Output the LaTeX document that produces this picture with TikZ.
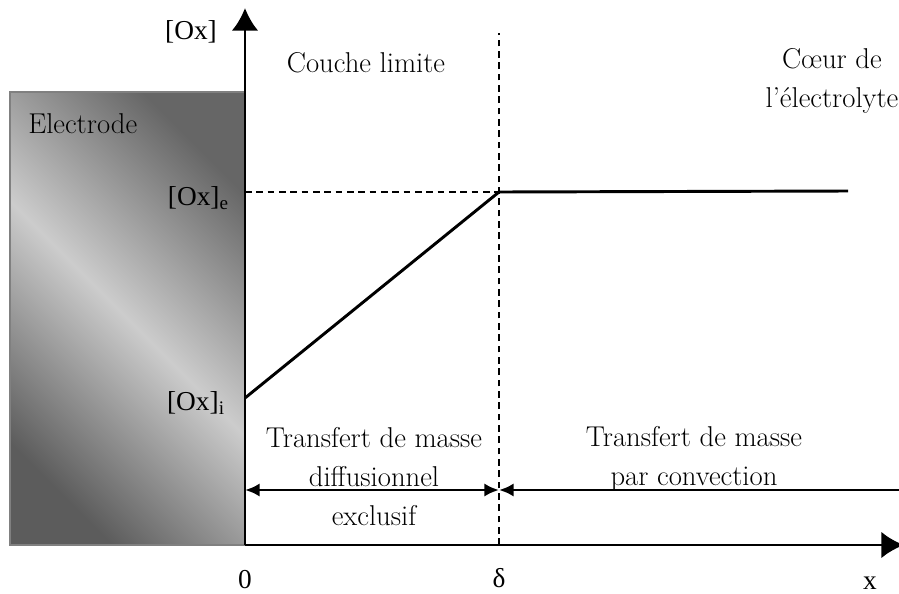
\documentclass[tikz,border=0pt]{standalone}
\usepackage{fontspec}
\newfontfamily\timesfont{Liberation Serif}
\usetikzlibrary{arrows.meta}

\begin{document}
\begin{tikzpicture}[x=0.75pt,y=-0.75pt,>={Latex[length=11pt,width=10pt]},
  axis/.style={line width=2.2pt,-{Latex[length=17pt,width=20pt]}},
  guide/.style={line width=1pt,dash pattern=on 5pt off 3.5pt},
  flux/.style={line width=2.2pt},
  lbl/.style={font=\fontsize{21.5}{29}\selectfont,align=center,inner sep=0pt},
  tlbl/.style={font=\timesfont\fontsize{20.5}{24}\selectfont,inner sep=0pt}]
  \useasboundingbox (0,0) rectangle (899,593);
  % electrode block
  \shade[top color=black!60,bottom color=black!64,middle color=black!20,shading angle=-45]
    (10,92) rectangle (245,545);
  \draw[black!50,line width=1.5pt] (245,92) -- (10,92) -- (10,545) -- (245,545);
  \node[lbl,anchor=base west] (elec) at (28,133) {Electrode};

  % points of the profile
  \coordinate (O) at (245,545);
  \coordinate (ytip) at (245,8);
  \coordinate (xtip) at (904,545);
  \coordinate (d) at (499,545);
  \coordinate (dtop) at (499,33);
  \coordinate (ye) at (245,192);
  \coordinate (ci) at (245,398);
  \coordinate (ce) at (499,192);
  \coordinate (cend) at (848,191);
  \coordinate (fl) at (245,490);
  \coordinate (fd) at (499,490);
  \coordinate (fr) at (899,490);

  \draw[guide] (d) -- (dtop);
  \draw[guide] (ye) -- (ce);
  \draw[flux] (ci) -- (ce) -- (cend);
  \draw[flux,<->] (fl) -- (fd);
  \draw[flux,<-] (fd) -- (fr);
  \draw[axis] (O) -- (ytip);
  \draw[axis] (O) -- (xtip);

  % labels (multi-line nodes sit on their last line)
  \node[tlbl,anchor=base] (oxlab) at (191,39) {[Ox]};
  \node[tlbl,anchor=base east] (oxe) at (229,205) {[Ox]\textsubscript{e}};
  \node[tlbl,anchor=base east] (oxi) at (225,410) {[Ox]\textsubscript{i}};
  \node[tlbl,anchor=base] (zero) at (245,588) {0};
  \node[tlbl,anchor=base] (delta) at (499,587) {δ};
  \node[tlbl,anchor=base] (xlab) at (870,589) {x};
  \node[lbl,anchor=base] (couche) at (366,72) {Couche limite};
  \node[lbl,anchor=base] (coeur) at (832,107) {Cœur de\\l’électrolyte};
  \node[lbl,anchor=base] (diff) at (374,525) {Transfert de masse\\diffusionnel\\exclusif};
  \node[lbl,anchor=base] (conv) at (694,485) {Transfert de masse\\par convection};
\end{tikzpicture}
\end{document}
